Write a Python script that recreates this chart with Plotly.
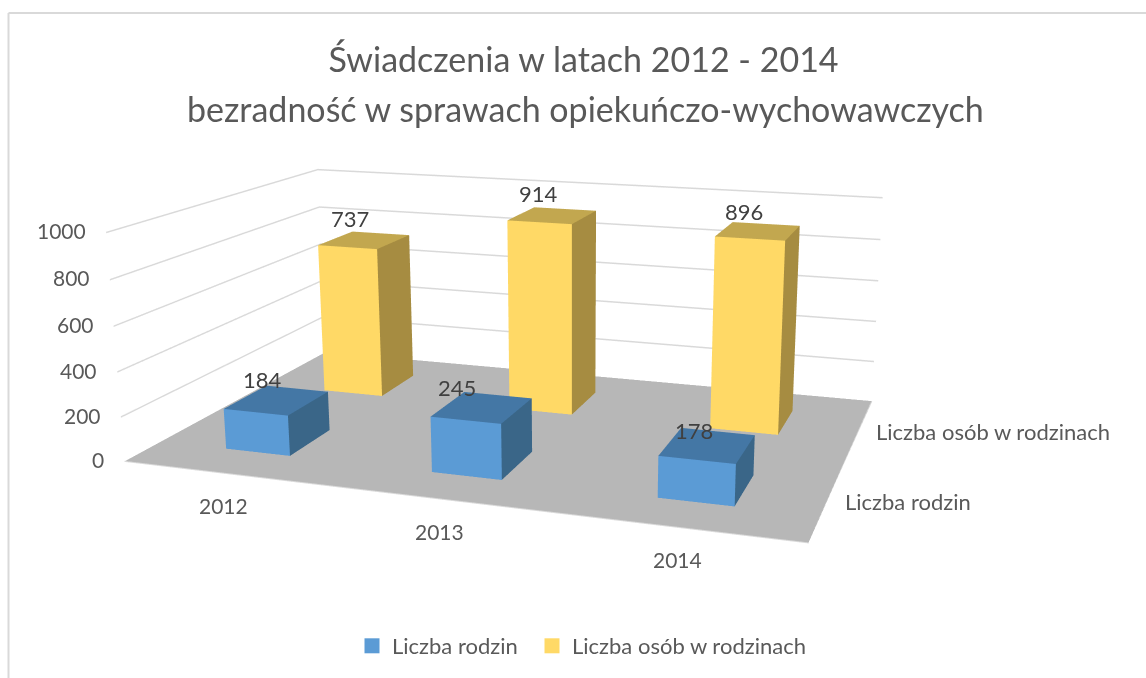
import numpy as np
import plotly.graph_objects as go

# --- data ---
years = ["2012", "2013", "2014"]
series_names = ["Liczba rodzin", "Liczba osób w rodzinach"]
rodziny = [184, 245, 178]
osoby = [737, 914, 896]
z_ticks = [0, 200, 400, 600, 800, 1000]
title_lines = ["Świadczenia w latach 2012 - 2014", "bezradność w sprawach opiekuńczo-wychowawczych"]

# --- style ---
FONT = "Lato"
W, H = 1146, 1243   # tall canvas = weak perspective of the reference
TOP = 283           # canvas is shifted up by this much so the view centre sits mid-window
AXIS_COL, LABEL_COL = "#595959", "#404040"
GRID = "#d9d9d9"
COLS = [dict(front="#5b9bd5", side="#3a6688", top="#4477a5"),
        dict(front="#ffd966", side="#a68c41", top="#c2a74f")]
BAR_W, BAR_D, BAR_DX = 0.32, 0.40, -0.005
FLAT = dict(ambient=1, diffuse=0, specular=0, fresnel=0, roughness=1)
LABEL_DX = [[-14, -25, -14], [-14, -14, -14]]
LABEL_DY = [[21, 20, 15], [22, 22, 20]]

def py(px):
    return 1 - (px + TOP) / H

def bar(xc, yc, val, cols, name):
    x0, x1 = xc + BAR_DX - BAR_W / 2, xc + BAR_DX + BAR_W / 2
    y0, y1 = yc - BAR_D / 2, yc + BAR_D / 2
    vx = [x0, x1, x1, x0, x0, x1, x1, x0]
    vy = [y0, y0, y1, y1, y0, y0, y1, y1]
    vz = [0, 0, 0, 0, val, val, val, val]
    i = [0, 0, 1, 1, 4, 4]
    j = [1, 5, 2, 6, 5, 6]
    k = [5, 4, 6, 5, 6, 7]
    fc = [cols["front"]] * 2 + [cols["side"]] * 2 + [cols["top"]] * 2
    return go.Mesh3d(x=vx, y=vy, z=vz, i=i, j=j, k=k, facecolor=fc, flatshading=True,
                     lighting=FLAT, hoverinfo="skip", showlegend=False, name=name)

fig = go.Figure()
XR, YR, ZR = [-0.5, 2.5], [-0.5, 1.5], [0, 1000]
fig.add_trace(go.Mesh3d(x=[XR[0], XR[1], XR[1], XR[0]], y=[YR[0], YR[0], YR[1], YR[1]], z=[0, 0, 0, 0],
                        i=[0, 0], j=[1, 2], k=[2, 3], color="#b7b7b7", flatshading=True,
                        lighting=FLAT, hoverinfo="skip", showlegend=False))
fig.add_trace(go.Scatter3d(x=[XR[0], XR[1], XR[1]], y=[YR[0], YR[0], YR[1]], z=[0, 0, 0], mode="lines",
                           line=dict(color=GRID, width=2), hoverinfo="skip", showlegend=False))
for s, vals in enumerate([rodziny, osoby]):
    for c, v in enumerate(vals):
        fig.add_trace(bar(c, s, v, COLS[s], series_names[s]))
for s, nm in enumerate(series_names):
    fig.add_trace(go.Scatter(x=[None], y=[None], mode="markers", name=nm,
                             legend="legend" if s == 0 else "legend2",
                             marker=dict(symbol="square", size=15, color=COLS[s]["front"])))

ann3d = []
for s, vals in enumerate([rodziny, osoby]):
    for c, v in enumerate(vals):
        ann3d.append(dict(x=c + BAR_DX, y=s, z=v, text=str(v), showarrow=False,
                          xshift=LABEL_DX[s][c], yshift=LABEL_DY[s][c],
                          font=dict(family=FONT, size=22, color=LABEL_COL)))
for t in z_ticks:
    ann3d.append(dict(x=XR[0], y=YR[0], z=t, text=str(t), showarrow=False, xanchor="right", xshift=-18, yshift=2,
                      font=dict(family=FONT, size=21, color=AXIS_COL)))
for c, y in enumerate(years):
    ann3d.append(dict(x=c, y=YR[0], z=0, text=y, showarrow=False, xshift=-2, yshift=-32,
                      font=dict(family=FONT, size=21, color=AXIS_COL)))
for s, nm in enumerate(series_names):
    ann3d.append(dict(x=XR[1], y=s, z=0, text=nm, showarrow=False, xanchor="left", xshift=15, yshift=-2,
                      font=dict(family=FONT, size=22, color=AXIS_COL)))

axis_off = dict(showbackground=False, showline=False, zeroline=False, showticklabels=False, ticks="",
                showspikes=False, title="", showgrid=False)

eye = np.array([0.7615, -2.0881, 0.5603])
center = np.array([0.0779, 0.0206, -0.0222])
up_fit = np.array([-37.37, 114.60, 7.68])
zc = (eye - center) / np.linalg.norm(eye - center)
xc = np.cross(up_fit, zc); xc /= np.linalg.norm(xc)
up = np.array([0, 0, 1.0]) - xc[2] * xc
up /= np.linalg.norm(up)

legend_style = dict(orientation="h", xanchor="left", y=py(646), yanchor="middle", bgcolor="rgba(0,0,0,0)",
                    font=dict(family=FONT, size=22, color=AXIS_COL))
fig.update_layout(
    width=W, height=H, margin=dict(l=0, r=0, t=0, b=0), paper_bgcolor="white", plot_bgcolor="white",
    font=dict(family=FONT, color=AXIS_COL),
    title=dict(text=title_lines[0], x=583.5 / W, xanchor="center", y=py(60), yanchor="middle", yref="container",
               font=dict(family=FONT, size=34, color=AXIS_COL)),
    annotations=[dict(text=title_lines[1], x=585 / W, y=py(108), xref="paper", yref="paper", showarrow=False,
                      xanchor="center", yanchor="middle", font=dict(family=FONT, size=34, color=AXIS_COL))],
    xaxis=dict(visible=False), yaxis=dict(visible=False),
    legend=dict(legend_style, x=352 / W),
    legend2=dict(legend_style, x=532 / W),
    shapes=[dict(type="line", xref="paper", yref="paper", x0=8.5 / W, x1=1146 / W, y0=py(13), y1=py(13),
                 line=dict(color=GRID, width=2), layer="below"),
            dict(type="line", xref="paper", yref="paper", x0=8.5 / W, x1=8.5 / W, y0=py(13), y1=py(678),
                 line=dict(color=GRID, width=2), layer="below")],
    scene=dict(
        domain=dict(x=[0, 1], y=[0, 1]),
        xaxis=dict(axis_off, range=XR),
        yaxis=dict(axis_off, range=YR),
        zaxis=dict(axis_off, range=ZR, showgrid=True, gridcolor=GRID, gridwidth=3, tickvals=z_ticks[1:]),
        aspectmode="manual", aspectratio=dict(x=1, y=0.6381, z=0.3389),
        camera=dict(eye=dict(x=eye[0], y=eye[1], z=eye[2]), center=dict(x=center[0], y=center[1], z=center[2]),
                    up=dict(x=up[0], y=up[1], z=up[2]), projection=dict(type="perspective")),
        annotations=ann3d,
    ),
)
fig.write_html("out.html", config=dict(displayModeBar=False),
               post_script=f"document.body.style.margin='0';document.body.style.marginTop='-{TOP}px';"
                           "document.documentElement.style.overflow='hidden';")
